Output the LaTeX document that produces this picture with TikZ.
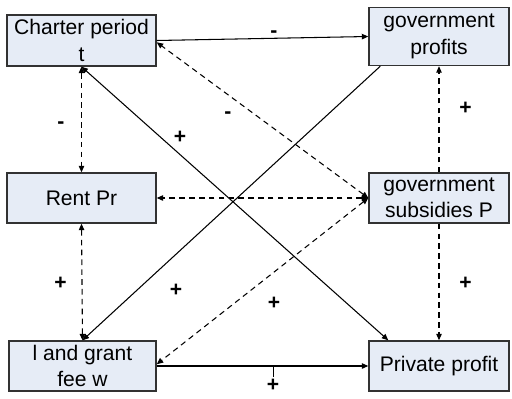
\documentclass[tikz,border=0pt]{standalone}
\usepackage{fontspec}
\setmainfont{Liberation Sans}
\usepackage{tikz}
\usetikzlibrary{arrows.meta}

\definecolor{boxfill}{RGB}{230,236,246}
\definecolor{boxline}{RGB}{50,50,50}

\begin{document}
\begin{tikzpicture}[
    font=\fontsize{12}{15}\selectfont,
    varbox/.style={draw=boxline, line width=0.8pt, fill=boxfill, align=center,
        inner sep=0pt, minimum width=2.8cm, minimum height=1cm},
    link/.style={line width=0.6pt, >={Triangle[length=1.3mm,width=1.1mm]}},
    dlink/.style={link, dash pattern=on 3.2pt off 2.4pt},
    sign/.style={font=\fontsize{12}{14}\selectfont\bfseries, inner sep=1pt}]
        \useasboundingbox (0,0) rectangle (10.24,-7.96);
        % the six variables
        \node[varbox, minimum width=2.98cm, minimum height=1.02cm] (charter) at (1.63,-0.81) {Charter period\\t};
        \node[varbox, minimum height=1.16cm] (govprof) at (8.78,-0.73) {government\\profits};
        \node[varbox, minimum width=2.98cm] (rent) at (1.63,-3.96) {Rent Pr};
        \node[varbox] (subs) at (8.78,-3.96) {government\\subsidies P};
        \node[varbox, minimum width=2.94cm] (land) at (1.65,-7.32) {l and grant\\fee w};
        \node[varbox] (priv) at (8.78,-7.32) {Private profit};
        % solid links
        \draw[link,->] (charter.east)--(govprof.west);
        \draw[link,<->] (charter.south)--([xshift=0.4cm]priv.north west);
        \draw[link,->] ([xshift=0.24cm]govprof.south west)--(land.north);
        \draw[link,->] (land.east)--coordinate[pos=0.55] (tick) (priv.west);
        \draw[line width=0.6pt] (tick)--++(0,-0.22) coordinate (tickend);
        % dashed links
        \draw[dlink,<->] (charter.south)--(rent.north);
        \draw[dlink,<->] (rent.south)--(land.north);
        \draw[dlink,<->] (subs.west)--([yshift=-1pt]charter.east);
        \draw[dlink,<->] (subs.west)--(rent.east);
        \draw[dlink,<->] (subs.west)--([yshift=1pt]land.east);
        \draw[dlink,->] (subs.north)--(govprof.south);
        \draw[dlink,->] (subs.south)--(priv.north);
        % signs
        \node[sign] (s1) at (5.48,-0.69) {-};
        \node[sign] (s2) at (4.56,-2.31) {-};
        \node[sign] (s3) at (1.22,-2.50) {-};
        \node[sign] (s4) at (3.60,-2.75) {+};
        \node[sign] (s5) at (9.31,-2.16) {+};
        \node[sign] (s6) at (1.21,-5.66) {+};
        \node[sign] (s7) at (3.52,-5.80) {+};
        \node[sign] (s8) at (5.48,-6.07) {+};
        \node[sign] (s9) at (9.31,-5.66) {+};
        \node[sign, below=0pt] (s10) at (tickend) {+};
\end{tikzpicture}
\end{document}
